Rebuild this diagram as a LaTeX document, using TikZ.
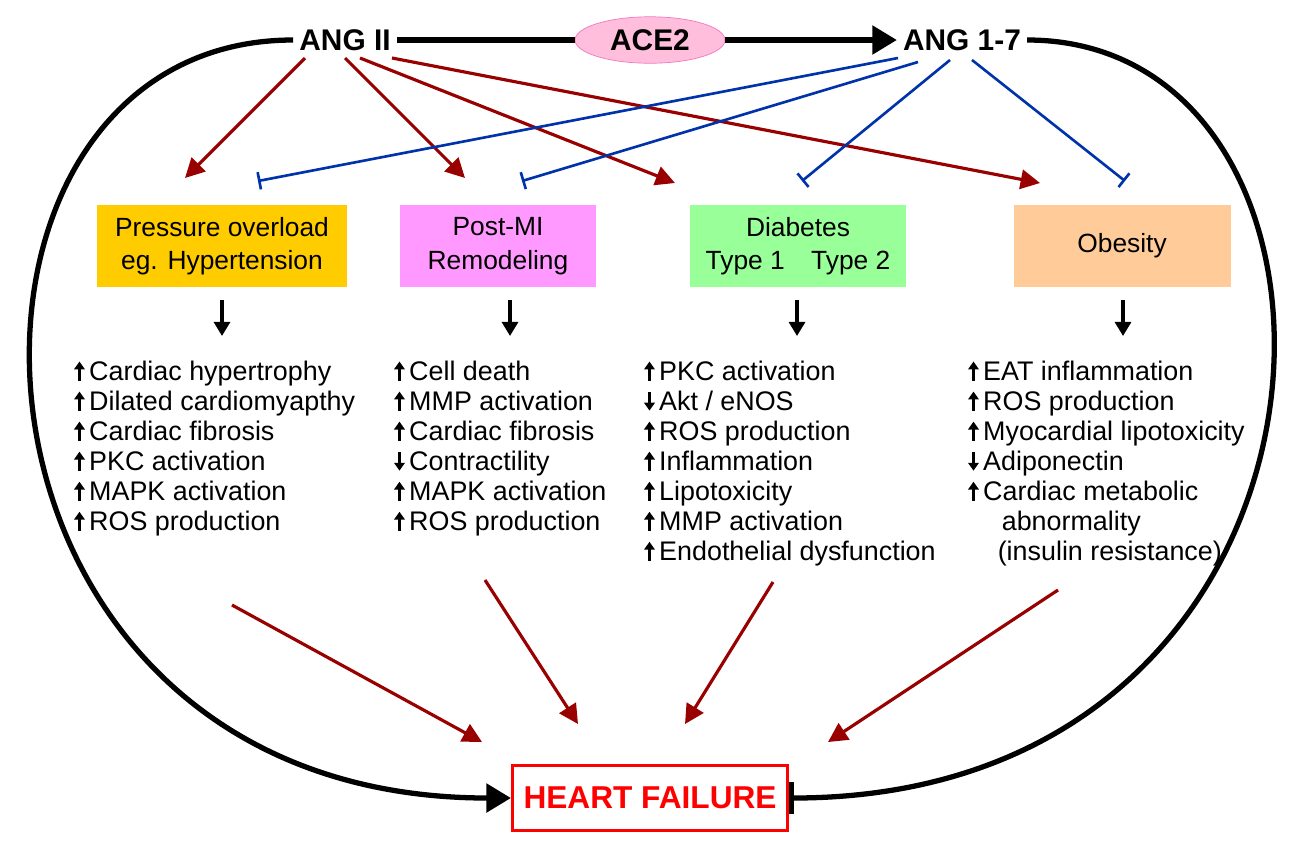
\documentclass[tikz,border=0pt]{standalone}
\usepackage{fontspec}
\setmainfont{Liberation Sans}
\usetikzlibrary{arrows.meta,shapes.geometric}
\definecolor{dred}{HTML}{990000}
\definecolor{dblue}{HTML}{0033AA}
\newcommand{\up}{\tikz[baseline=0pt,x=1cm,y=1cm]\draw[-{Triangle[length=4.5pt,width=6pt]},line width=1.5pt](0,0)--(0,0.38);\,}
\newcommand{\dn}{\tikz[baseline=0pt,x=1cm,y=1cm]\draw[-{Triangle[length=4.5pt,width=6pt]},line width=1.5pt](0,0.38)--(0,0);\,}
\begin{document}
\begin{tikzpicture}[x=0.02cm,y=-0.02cm,
  lab/.style={font=\fontsize{17}{20}\selectfont\bfseries},
  box/.style={minimum height=1.64cm,align=center,font=\fontsize{15}{19}\selectfont},
  lst/.style={anchor=north west,align=left,font=\fontsize{15.3}{17.1}\selectfont},
  red/.style={dred,line width=1.8pt,-{Triangle[length=11pt,width=11pt]}},
  inh/.style={dblue,line width=1.5pt,-{Bar[width=10pt]}},
  dar/.style={line width=2pt,-{Triangle[length=8pt,width=9pt]}}]
\useasboundingbox (0,0) rectangle (1310,840);
\node[lab] (ang2) at (345,40) {ANG II};
\node[ellipse,fill={rgb,255:red,255;green,190;blue,220},draw={rgb,255:red,240;green,120;blue,190},minimum width=3cm,minimum height=0.9cm,lab] (ace) at (650,40) {ACE2};
\node[lab] (ang17) at (962,40) {ANG 1-7};
\draw[line width=3pt] (ang2.east) -- (ace.west);
\draw[line width=3pt,-{Triangle[length=14pt,width=16pt]}] (ace.east) -- (ang17.west);
\node[draw=red,line width=1.8pt,minimum width=5.5cm,minimum height=1.3cm,text=red,font=\fontsize{18}{22}\selectfont\bfseries] (hf) at (650,798) {HEART FAILURE};
\draw[line width=3pt,-{Triangle[length=14pt,width=16pt]}] (ang2.west) .. controls (-95,40) and (-75,798) .. (hf.west);
\draw[line width=3pt,-{Bar[width=18pt]}] (ang17.east) .. controls (1395,40) and (1380,798) .. (hf.east);
\node[box,fill={rgb,255:red,255;green,204;blue,0},minimum width=5cm] (b1) at (222,246) {Pressure overload\\eg. Hypertension};
\node[box,fill={rgb,255:red,255;green,153;blue,255},minimum width=3.94cm] (b2) at (498,246) {Post-MI\\Remodeling};
\node[box,fill={rgb,255:red,153;green,255;blue,153},minimum width=4.34cm] (b3) at (798,246) {Diabetes\\Type 1\quad Type 2};
\node[box,fill={rgb,255:red,255;green,204;blue,153},minimum width=4.34cm] (b4) at (1122,246) {Obesity};
\foreach \x/\n in {222/1,510/2,797/3,1123/4}{
  \coordinate (s\n) at (\x,300); \coordinate (e\n) at (\x,336);
  \draw[dar] (s\n) -- (e\n);}
\node[lst] (l1) at (68,354) {\up Cardiac hypertrophy\\\up Dilated cardiomyapthy\\\up Cardiac fibrosis\\\up PKC activation\\\up MAPK activation\\\up ROS production};
\node[lst] (l2) at (388,354) {\up Cell death\\\up MMP activation\\\up Cardiac fibrosis\\\dn Contractility\\\up MAPK activation\\\up ROS production};
\node[lst] (l3) at (638,354) {\up PKC activation\\\dn Akt / eNOS\\\up ROS production\\\up Inflammation\\\up Lipotoxicity\\\up MMP activation\\\up Endothelial dysfunction};
\node[lst] (l4) at (962,354) {\up EAT inflammation\\\up ROS production\\\up Myocardial lipotoxicity\\\dn Adiponectin\\\up Cardiac metabolic\\\hspace{1.25em}abnormality\\\hspace{1.1em}(insulin resistance)};
\coordinate (t1) at (185,178); \coordinate (t2) at (465,178);
\coordinate (t3) at (675,183); \coordinate (t4) at (1040,183);
\draw[red] (305,58) -- (t1);
\draw[red] (345,58) -- (t2);
\draw[red] (360,58) -- (t3);
\draw[red] (392,58) -- (t4);
\coordinate (i1) at (258,181); \coordinate (i2) at (522,181);
\coordinate (i3) at (802,181); \coordinate (i4) at (1125,181);
\draw[inh] (898,58) -- (i1);
\draw[inh] (918,62) -- (i2);
\draw[inh] (950,60) -- (i3);
\draw[inh] (972,60) -- (i4);
\coordinate (f1) at (232,605); \coordinate (f2) at (485,580);
\coordinate (f3) at (773,582); \coordinate (f4) at (1058,590);
\draw[red] (f1) -- (482,742);
\draw[red] (f2) -- (578,724);
\draw[red] (f3) -- (685,724);
\draw[red] (f4) -- (828,742);
\end{tikzpicture}
\end{document}
